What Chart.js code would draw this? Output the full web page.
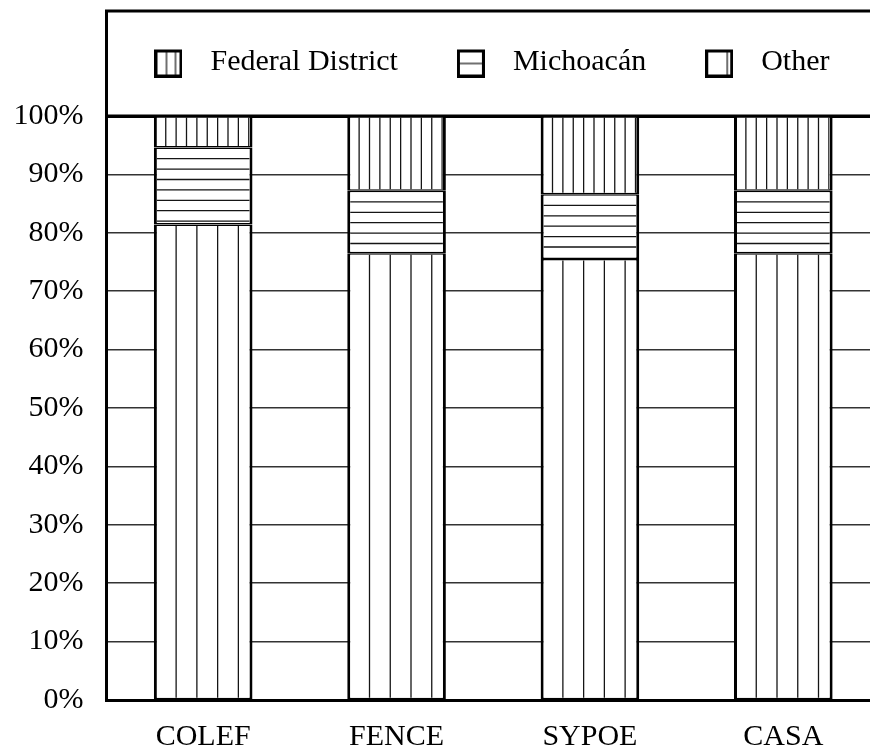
<!DOCTYPE html>
<html>
<head>
<meta charset="utf-8">
<script src="https://cdn.jsdelivr.net/npm/chart.js@4.4.0/dist/chart.umd.min.js"></script>
<style>
  html, body { margin: 0; padding: 0; overflow: hidden; background: #fff; }
</style>
</head>
<body>
<canvas id="originChart" width="882" height="752"></canvas>
<script>
const categories = ['COLEF', 'FENCE', 'SYPOE', 'CASA'];
const otherShare = [81.4, 76.5, 75.5, 76.5];
const michoacanShare = [13.2, 10.7, 11.1, 10.7];
const federalDistrictShare = [5.4, 12.8, 13.4, 12.8];
const yTickValues = [0, 10, 20, 30, 40, 50, 60, 70, 80, 90, 100];

const FONT = "'Liberation Serif', 'Times New Roman', serif";
const FRAME_TOP = 11;
const LEGEND_CENTER = 492;
const LEGEND_PAD = 46;

// small hatched boxes for the legend
function makeIcon(kind) {
    const c = document.createElement('canvas');
    c.width = 28;
    c.height = 31;
    const g = c.getContext('2d');
    g.fillStyle = '#fff';
    g.fillRect(0, 3, 28, 28);
    g.strokeStyle = '#111';
    g.lineWidth = 1.2;
    g.beginPath();
    if (kind === 'vfine') {
        [12, 21].forEach(x => { g.moveTo(x, 3); g.lineTo(x, 31); });
    } else if (kind === 'hrow') {
        g.moveTo(0, 17); g.lineTo(28, 17);
    } else {
        g.moveTo(22, 3); g.lineTo(22, 31);
    }
    g.stroke();
    g.strokeStyle = '#000';
    g.lineWidth = 3;
    g.strokeRect(1.5, 4.5, 25, 25);
    return c;
}

// hatching drawn inside each bar, using the bar geometry from Chart.js
const hatchPlugin = {
    id: 'hatch',
    afterDatasetsDraw(chart) {
        const ctx = chart.ctx;
        chart.data.datasets.forEach((ds, i) => {
            const meta = chart.getDatasetMeta(i);
            if (meta.hidden) return;
            meta.data.forEach(el => {
                const { x, y, base, width } = el.getProps(['x', 'y', 'base', 'width'], true);
                const left = x - width / 2, right = x + width / 2;
                const top = Math.min(y, base), bottom = Math.max(y, base);
                ctx.save();
                ctx.beginPath();
                ctx.rect(left + 3, top + 1.5, right - left - 6, bottom - top - 3);
                ctx.clip();
                ctx.strokeStyle = '#151515';
                ctx.lineWidth = 1.3;
                ctx.beginPath();
                if (ds.hatch === 'vwide' || ds.hatch === 'vfine') {
                    const step = ds.hatch === 'vwide' ? 20.75 : 10.375;
                    for (let px = left + 1.5 + step; px < right - 2; px += step) {
                        ctx.moveTo(px, top);
                        ctx.lineTo(px, bottom);
                    }
                } else {
                    const step = 10.4;
                    for (let py = top + 0.75 + step; py < bottom - 2; py += step) {
                        ctx.moveTo(left, py);
                        ctx.lineTo(right, py);
                    }
                }
                ctx.stroke();
                ctx.restore();
            });
        });
    }
};

// legend box height / centring, outer frame and the heavy 100% line
const framePlugin = {
    id: 'frame',
    beforeLayout(chart) {
        const legend = chart.legend;
        if (legend && !legend._patched) {
            const fit = legend.fit;
            legend.fit = function () {
                fit.call(this);
                this.height = 106;
            };
            legend._patched = true;
        }
    },
    afterLayout(chart) {
        const legend = chart.legend;
        const lw = legend.lineWidths[0];
        const start = LEGEND_CENTER - (lw - 33) / 2;
        legend.right = start + lw + 100;
        legend.left = 2 * start - LEGEND_PAD - legend.right + lw;
        legend.width = legend.right - legend.left;
        legend.top = 1;
    },
    afterDatasetsDraw(chart) {
        const { ctx, chartArea } = chart;
        const top = chart.scales.y.getPixelForValue(100);
        ctx.save();
        ctx.strokeStyle = '#000';
        ctx.lineWidth = 3;
        ctx.beginPath();
        ctx.moveTo(chartArea.left - 1.5, top);
        ctx.lineTo(chart.width, top);
        ctx.moveTo(chartArea.left, FRAME_TOP);
        ctx.lineTo(chartArea.left, top);
        ctx.moveTo(chartArea.left - 1.5, FRAME_TOP);
        ctx.lineTo(chart.width, FRAME_TOP);
        ctx.stroke();
        ctx.restore();
    }
};

const datasets = [
    { label: 'Other', data: otherShare, hatch: 'vwide' },
    { label: 'Michoacán', data: michoacanShare, hatch: 'hrow' },
    { label: 'Federal District', data: federalDistrictShare, hatch: 'vfine' }
].map(ds => Object.assign(ds, {
    backgroundColor: '#fff',
    borderColor: '#000',
    borderWidth: { left: 3, right: 3, top: 1.5, bottom: 1.5 },
    borderSkipped: false,
    categoryPercentage: 1,
    barPercentage: 0.51
}));

const legendIcons = datasets.map(ds => makeIcon(ds.hatch));

new Chart(document.getElementById('originChart'), {
    type: 'bar',
    data: { labels: categories, datasets: datasets },
    options: {
        responsive: false,
        animation: false,
        layout: { padding: { top: 10, left: 13.5, right: 2, bottom: 0 } },
        plugins: {
            tooltip: { enabled: false },
            legend: {
                position: 'top',
                reverse: true,
                labels: {
                    usePointStyle: true,
                    pointStyleWidth: 54,
                    padding: LEGEND_PAD,
                    color: '#000',
                    font: { family: FONT, size: 30 },
                    generateLabels: chart => chart.data.datasets.map((ds, i) => ({
                        text: ds.label,
                        fillStyle: '#fff',
                        strokeStyle: '#000',
                        lineWidth: 1,
                        pointStyle: legendIcons[i],
                        hidden: false,
                        datasetIndex: i
                    }))
                }
            }
        },
        scales: {
            x: {
                stacked: true,
                afterFit: axis => { axis.height = 52; },
                grid: { display: false, drawTicks: false },
                border: { display: true, color: '#000', width: 3 },
                ticks: {
                    color: '#000',
                    padding: 22,
                    font: { family: FONT, size: 30, lineHeight: 1 }
                }
            },
            y: {
                stacked: true,
                min: 0,
                max: 100,
                afterFit: axis => { axis.width = 93; },
                afterBuildTicks: axis => { axis.ticks = yTickValues.map(v => ({ value: v })); },
                grid: {
                    drawTicks: false,
                    color: c => c.tick && c.tick.value === 100 ? '#000' : '#333',
                    lineWidth: c => c.tick && c.tick.value === 100 ? 3 : 1.5
                },
                border: { display: true, color: '#000', width: 3 },
                ticks: {
                    color: '#000',
                    padding: 23,
                    font: { family: FONT, size: 30, lineHeight: 1 },
                    callback: v => v + '%'
                }
            }
        }
    },
    plugins: [hatchPlugin, framePlugin]
});
</script>
</body>
</html>
